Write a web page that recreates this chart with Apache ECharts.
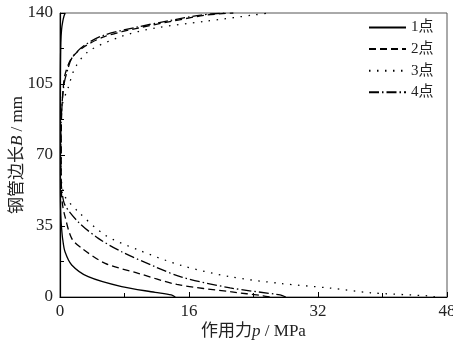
<!DOCTYPE html>
<html><head><meta charset="utf-8">
<script src="https://cdn.jsdelivr.net/npm/echarts@6/dist/echarts.min.js"></script>
<style>html,body{margin:0;padding:0;background:#fff}#c{width:453px;height:349px}</style>
</head><body><div id="c"></div>
<script>
var seriesNames = ['1点', '2点', '3点', '4点'];
var xTicks = [0, 16, 32, 48];
var yTicks = [0, 35, 70, 105, 140];

// 1点
var p1 = [14.3, 13.8, 11.8, 7.65, 3.5, 1.45, 0.62, 0.35, 0.2, 0.1, 0.05, 0.03, 0.03, 0.05, 0.1, 0.2, 0.35, 0.5, 0.65];
var B1 = [0, 1, 2.3, 5.1, 10, 15.8, 22.3, 28, 33.8, 40, 50, 70, 90, 110, 125, 132, 136, 138.5, 140];
// 2点
var p2 = [26, 25.2, 21.1, 14.5, 9.7, 5.6, 2.7, 1.45, 0.6, 0.3, 0.15, 0.15, 0.2, 0.4, 0.62, 1.45, 3.1, 5.6, 9.7, 13.85, 18, 21.5];
var B2 = [0, 0.6, 2.6, 6.2, 11.7, 16.6, 24, 28.9, 40, 46, 55, 70, 90, 103, 109.6, 117.8, 123.6, 128.5, 132.6, 135.9, 138.9, 140];
// 3点
var p3 = [46.5, 45.9, 38.5, 33.5, 27.3, 21.1, 15.1, 9.7, 5.6, 2.27, 0.62, 0.25, 0.1, 0.1, 0.3, 1.0, 1.86, 3.5, 7.65, 11.8, 18, 24.2, 26];
var B3 = [0, 0.5, 2.1, 4.4, 6.7, 10, 15.5, 23.2, 30.5, 42, 49.4, 55, 62, 80, 95, 103, 112.9, 121, 128.5, 132.6, 135.9, 139.1, 140];
// 4点
var p4 = [28, 27.3, 21.1, 15.1, 11.8, 7.65, 4.75, 2.27, 0.62, 0.25, 0.1, 0.1, 0.25, 0.5, 0.8, 1.5, 3.0, 5.4, 9.5, 13.5, 17.5, 20.5];
var B4 = [0, 1, 4.5, 9.8, 14.9, 22.3, 28.9, 37, 45.3, 52, 60, 80, 95, 105, 110, 118, 124, 129, 133, 136.2, 139, 140];

var pList = [p1, p2, p3, p4];
var BList = [B1, B2, B3, B4];
var dashes = ['solid', [7, 4], [1.5, 6.5], [10, 3, 1.5, 3]];

var serif = "'Liberation Serif','Times New Roman','Noto Sans CJK SC',serif";

function pairs(ps, bs) { return ps.map(function (v, i) { return [v, bs[i]]; }); }

var chart = echarts.init(document.getElementById('c'), null, { renderer: 'canvas' });
chart.setOption({
  animation: false,
  backgroundColor: '#fff',
  grid: { left: 60, right: 6, top: 13, bottom: 52, containLabel: false, outerBoundsMode: 'none',
          show: true, borderColor: '#555', borderWidth: 1, backgroundColor: 'transparent' },
  legend: {
    orient: 'vertical', left: 368, top: 20, padding: 0,
    itemWidth: 37, itemHeight: 14, itemGap: 6.6,
    data: seriesNames,
    itemStyle: { opacity: 0 },
    textStyle: { fontFamily: serif, fontSize: 15, color: '#222' }
  },
  xAxis: {
    type: 'value', min: xTicks[0], max: xTicks[xTicks.length - 1], interval: 16,
    name: '作用力{i|p} / MPa', nameLocation: 'middle', nameGap: 26, nameMoveOverlap: false,
    nameTextStyle: { fontFamily: serif, fontSize: 17, color: '#222', rich: { i: { fontStyle: 'italic', fontFamily: serif, fontSize: 17, color: '#222' } } },
    axisLine: { lineStyle: { color: '#000', width: 1.2 } },
    axisTick: { inside: true, length: 5, lineStyle: { color: '#000' } },
    minorTick: { show: true, splitNumber: 2, length: 4, lineStyle: { color: '#000' } },
    axisLabel: { fontFamily: serif, fontSize: 17, color: '#222', margin: 6 },
    splitLine: { show: false }
  },
  yAxis: {
    type: 'value', min: yTicks[0], max: yTicks[yTicks.length - 1], interval: 35,
    name: '钢管边长{i|B} / mm', nameLocation: 'middle', nameGap: 34, nameMoveOverlap: false,
    nameTextStyle: { fontFamily: serif, fontSize: 17, color: '#222', rich: { i: { fontStyle: 'italic', fontFamily: serif, fontSize: 17, color: '#222' } } },
    axisLine: { lineStyle: { color: '#000', width: 1.2 } },
    axisTick: { inside: true, length: 5, lineStyle: { color: '#000' } },
    minorTick: { show: true, splitNumber: 2, length: 4, lineStyle: { color: '#000' } },
    axisLabel: { fontFamily: serif, fontSize: 17, color: '#222', margin: 7 },
    splitLine: { show: false }
  },
  series: seriesNames.map(function (n, i) {
    return {
      name: n, type: 'line', data: pairs(pList[i], BList[i]),
      showSymbol: false, symbol: 'none', smooth: 0.3,
      lineStyle: { color: '#000', width: 1.3, type: dashes[i] },
      itemStyle: { color: '#000' }
    };
  })
});
</script>
</body></html>
